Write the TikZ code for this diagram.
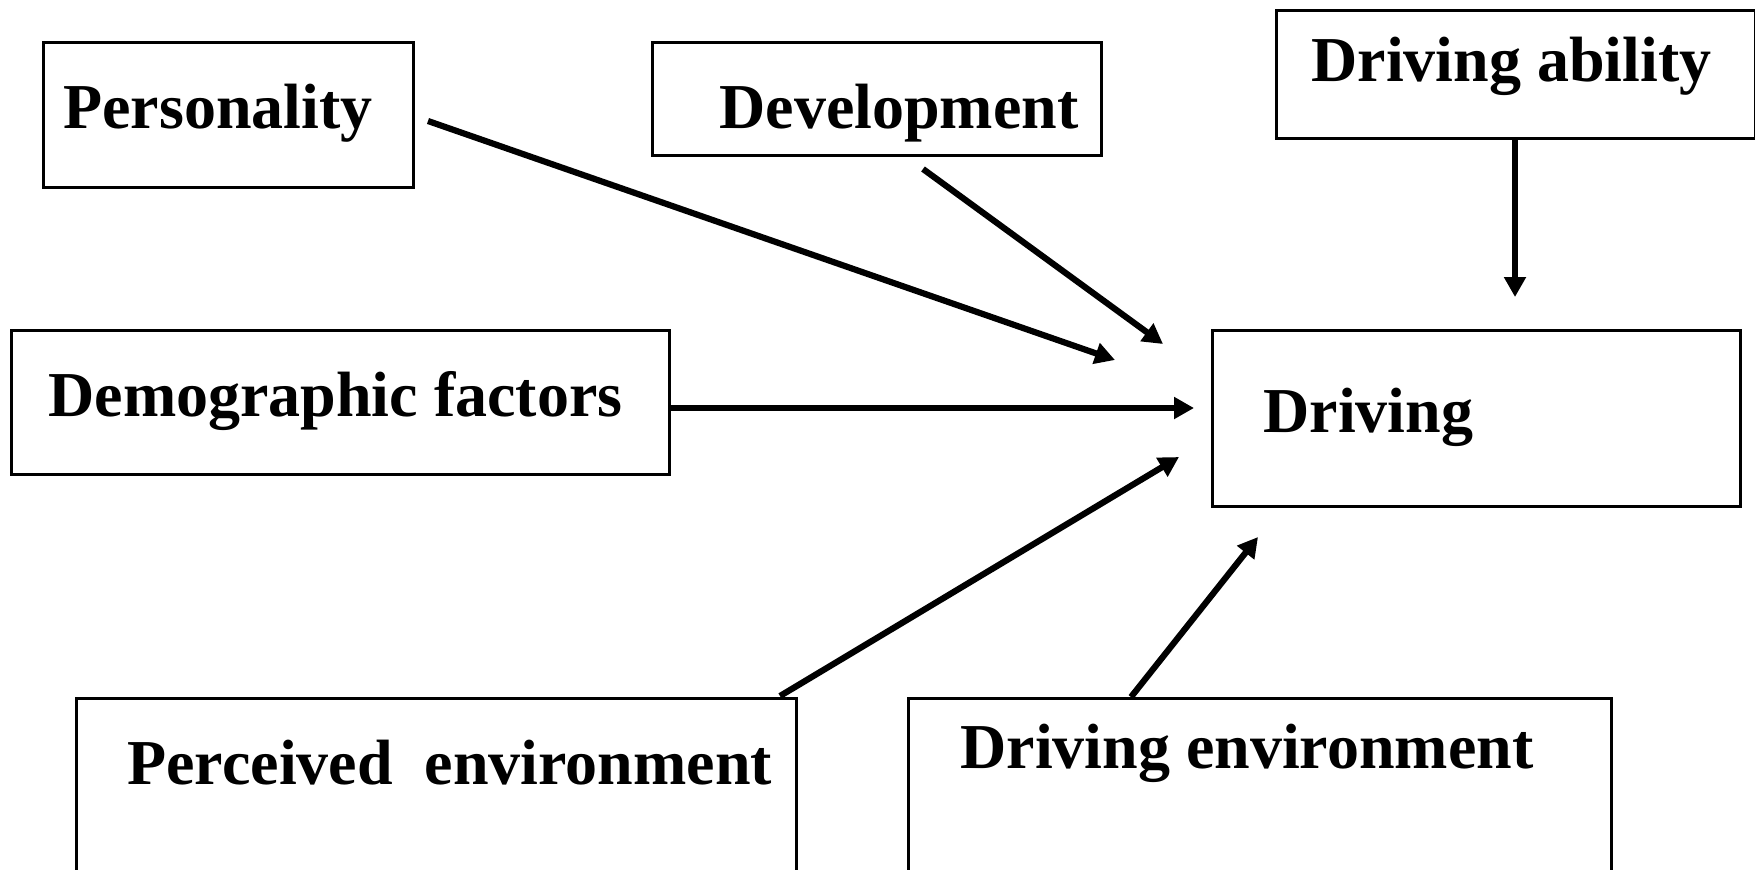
\documentclass[tikz,border=0pt]{standalone}
\usepackage{fontspec}
\setmainfont{Liberation Serif}
\usetikzlibrary{arrows.meta}
\begin{document}
\begin{tikzpicture}[x=0.5pt,y=-0.5pt,
  box/.style={draw,line width=1.5pt,rectangle,inner sep=0pt,anchor=north west},
  lbl/.style={anchor=base west,inner sep=0pt,font=\fontsize{32}{38}\selectfont\bfseries},
  arr/.style={line width=3.1pt,-{Triangle[length=10pt,width=10.5pt]}}]
\useasboundingbox (0,0) rectangle (1755,869);
\clip (0,0) rectangle (1755,869);
% boxes
\node[box,minimum width=185pt,minimum height=72.5pt] (pers) at (42,41) {};
\node[box,minimum width=224.5pt,minimum height=56.5pt] (dev) at (651,41) {};
\node[box,minimum width=239.5pt,minimum height=64pt] (abil) at (1275,9) {};
\node[box,minimum width=329pt,minimum height=72pt] (demo) at (10,329) {};
\node[box,minimum width=264pt,minimum height=88pt] (drv) at (1211,329) {};
\node[box,minimum width=360pt,minimum height=125pt] (perc) at (75,697) {};
\node[box,minimum width=351.5pt,minimum height=125pt] (denv) at (907,697) {};
% labels
\node[lbl] (tpers) at (63,128) {Personality};
\node[lbl] (tdev) at (719,128) {Development};
\node[lbl] (tabil) at (1311,81) {Driving ability};
\node[lbl] (tdemo) at (48,416) {Demographic factors};
\node[lbl] (tdrv) at (1263,432) {Driving};
\node[lbl] (tperc) at (127,784) {Perceived\ \ environment};
\node[lbl] (tdenv) at (960,768) {Driving environment};
% connector end points
\coordinate (ps) at (428,121);
\coordinate (pe) at (1115,360);
\coordinate (ds) at (923,169);
\coordinate (de) at (1163,344);
\coordinate (ae) at (1515,297);
\coordinate (ms) at (668,408);
\coordinate (me) at (1194,408);
\coordinate (cs) at (780,696);
\coordinate (ce) at (1179,457);
\coordinate (es) at (1131,697);
\coordinate (ee) at (1258,537);
% connectors
\draw[arr] (ps) -- (pe);
\draw[arr] (ds) -- (de);
\draw[arr] (abil.south -| ae) -- (ae);
\draw[arr] (ms) -- (me);
\draw[arr] (cs) -- (ce);
\draw[arr] (es) -- (ee);
\end{tikzpicture}
\end{document}
